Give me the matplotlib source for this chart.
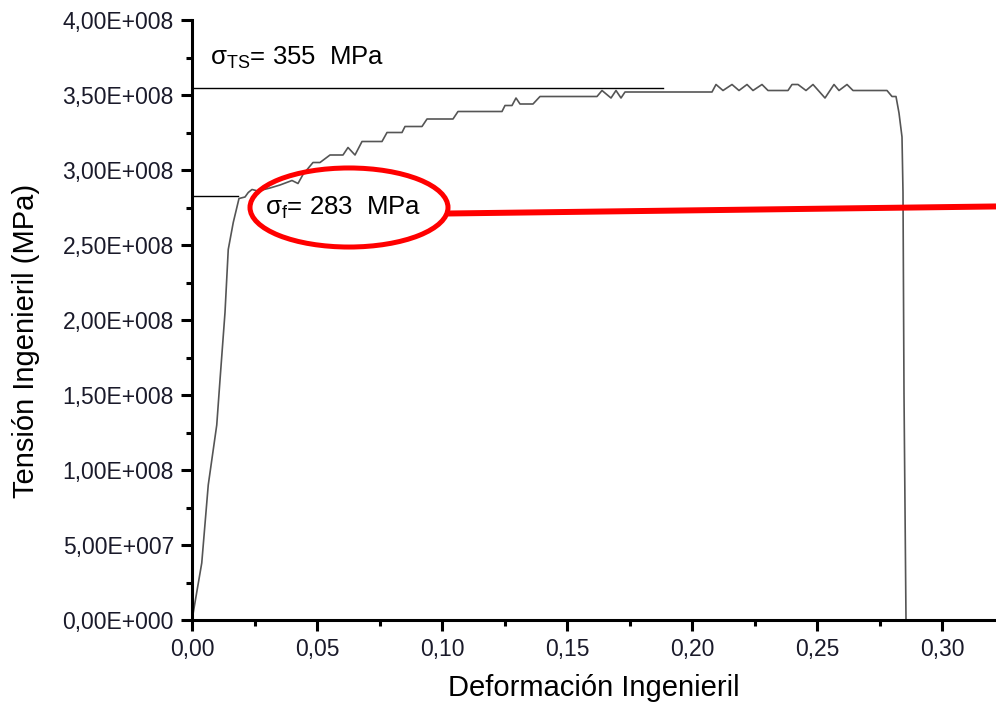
import math
import matplotlib
matplotlib.use("Agg")
from matplotlib import pyplot as plt
from matplotlib.patches import Ellipse
from matplotlib.ticker import FuncFormatter, MultipleLocator

plt.rcParams['font.family'] = ['Liberation Sans', 'DejaVu Sans']

# stress-strain curve (strain, stress in MPa)
strain = [0.0, 0.0039, 0.0065, 0.0099, 0.0112, 0.0132, 0.0145, 0.0165, 0.0188,
          0.0212, 0.0225, 0.0240, 0.0264, 0.0312, 0.0352, 0.0400, 0.0424, 0.0444,
          0.0484, 0.0512, 0.0552, 0.0604, 0.0624, 0.0652, 0.0680, 0.0760, 0.0780,
          0.0840, 0.0852, 0.0920, 0.0940, 0.1044, 0.1064, 0.1240, 0.1252, 0.1280,
          0.1296, 0.1312, 0.1364, 0.1392, 0.1620, 0.1640, 0.1676, 0.1696, 0.1716,
          0.1732, 0.2080, 0.2096, 0.2124, 0.2160, 0.2188, 0.2220, 0.2244, 0.2280,
          0.2304, 0.2384, 0.2400, 0.2424, 0.2456, 0.2484, 0.2532, 0.2568, 0.2588,
          0.2620, 0.2644, 0.2780, 0.2800, 0.2816, 0.2828, 0.2840, 0.2844, 0.2848,
          0.2856]
stress = [0, 38, 90, 130, 160, 205, 247, 265, 281,
          282, 285, 287, 286, 288, 290, 293, 291, 297,
          305, 305, 310, 310, 315, 310, 319, 319, 325,
          325, 329, 329, 334, 334, 339, 339, 343, 343,
          348, 344, 344, 349, 349, 353, 348, 353, 348,
          352, 352, 357, 353, 357, 353, 357, 353, 357,
          353, 353, 357, 357, 353, 357, 348, 357, 353,
          357, 353, 353, 349, 349, 338, 322, 285, 151,
          0]

sigma_ts = 355   # MPa
sigma_f = 283    # MPa
ts_line_end = 0.1884
f_line_end = 0.0184

x_max = 0.3216
y_max = 4.0e8


def sci_label(v, pos):
    if v == 0:
        return "0,00E+000"
    e = int(math.floor(math.log10(abs(v)) + 1e-9))
    m = v / 10 ** e
    return f"{m:.2f}E+{e:03d}".replace(".", ",")


fig = plt.figure(figsize=(9.96, 7.12), dpi=100)
ax = fig.add_axes([192 / 996, 1 - 620 / 712, 1 - 192 / 996, 600 / 712])

ax.plot(strain, [s * 1e6 for s in stress], color="#555555", lw=1.2)

# reference lines for the two stresses
ax.plot([0, ts_line_end], [sigma_ts * 1e6] * 2, color="black", lw=1.0)
ax.plot([0, f_line_end], [sigma_f * 1e6] * 2, color="black", lw=1.0)

ax.text(0.0072, 370e6, r"$\mathregular{σ_{TS}}$= 355  MPa", fontsize=18.5,
        va="baseline", ha="left")
ax.text(0.0292, 270e6, r"$\mathregular{σ_{f}}$= 283  MPa", fontsize=18.5,
        va="baseline", ha="left")

# red highlight
ax.add_patch(Ellipse((0.0628, 275e6), 0.0792, 52.7e6, fill=False,
                     edgecolor="#ff0000", lw=3.6, zorder=5))
ax.plot([0.1024, x_max], [271e6, 275.7e6], color="#ff0000", lw=4.3,
        solid_capstyle="butt", zorder=5, clip_on=False)

ax.set_xlim(0, x_max)
ax.set_ylim(0, y_max)
ax.spines["top"].set_visible(False)
ax.spines["right"].set_visible(False)
for s in ("left", "bottom"):
    ax.spines[s].set_linewidth(2.2)

ax.xaxis.set_major_locator(MultipleLocator(0.05))
ax.xaxis.set_minor_locator(MultipleLocator(0.025))
ax.yaxis.set_major_locator(MultipleLocator(0.5e8))
ax.yaxis.set_minor_locator(MultipleLocator(0.25e8))
ax.xaxis.set_major_formatter(FuncFormatter(lambda v, p: f"{v:.2f}".replace(".", ",")))
ax.yaxis.set_major_formatter(FuncFormatter(sci_label))
ax.tick_params(which="major", direction="out", length=8, width=2.2,
               labelsize=16.5, pad=5, labelcolor="#1a1a2a")
ax.tick_params(which="minor", direction="out", length=4.5, width=2.2)

ax.set_xlabel("Deformación Ingenieril", fontsize=21, labelpad=9)
ax.set_ylabel("Tensión Ingenieril (MPa)", fontsize=21)
ax.yaxis.set_label_coords(-0.189, 0.465)

fig.savefig("out.png", dpi=100)
